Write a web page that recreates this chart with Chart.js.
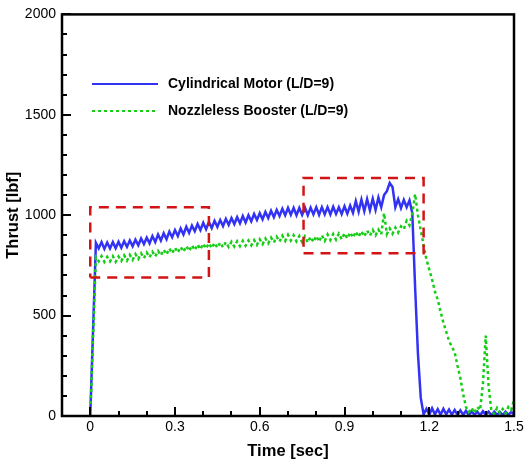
<!DOCTYPE html>
<html>
<head>
<meta charset="utf-8">
<script src="https://cdn.jsdelivr.net/npm/chart.js@4/dist/chart.umd.min.js"></script>
<style>
  html, body { margin: 0; padding: 0; background: #fff; }
  canvas { display: block; }
</style>
</head>
<body>
<canvas id="thrust-chart" width="528" height="462"></canvas>
<script>
// Time samples [sec]
const time = [
  0.00, 0.01, 0.02, 0.03, 0.04, 0.05, 0.06, 0.07, 0.08, 0.09,
  0.10, 0.11, 0.12, 0.13, 0.14, 0.15, 0.16, 0.17, 0.18, 0.19,
  0.20, 0.21, 0.22, 0.23, 0.24, 0.25, 0.26, 0.27, 0.28, 0.29,
  0.30, 0.31, 0.32, 0.33, 0.34, 0.35, 0.36, 0.37, 0.38, 0.39,
  0.40, 0.41, 0.42, 0.43, 0.44, 0.45, 0.46, 0.47, 0.48, 0.49,
  0.50, 0.51, 0.52, 0.53, 0.54, 0.55, 0.56, 0.57, 0.58, 0.59,
  0.60, 0.61, 0.62, 0.63, 0.64, 0.65, 0.66, 0.67, 0.68, 0.69,
  0.70, 0.71, 0.72, 0.73, 0.74, 0.75, 0.76, 0.77, 0.78, 0.79,
  0.80, 0.81, 0.82, 0.83, 0.84, 0.85, 0.86, 0.87, 0.88, 0.89,
  0.90, 0.91, 0.92, 0.93, 0.94, 0.95, 0.96, 0.97, 0.98, 0.99,
  1.00, 1.01, 1.02, 1.03, 1.04, 1.05, 1.06, 1.07, 1.08, 1.09,
  1.10, 1.11, 1.12, 1.13, 1.14, 1.15, 1.16, 1.17, 1.18, 1.19,
  1.20, 1.21, 1.22, 1.23, 1.24, 1.25, 1.26, 1.27, 1.28, 1.29,
  1.30, 1.31, 1.32, 1.33, 1.34, 1.35, 1.36, 1.37, 1.38, 1.39,
  1.40, 1.41, 1.42, 1.43, 1.44, 1.45, 1.46, 1.47, 1.48, 1.49,
  1.50
];

// Cylindrical Motor (L/D=9) thrust [lbf]
const cylindricalMotor = [
  0, 430, 862, 835, 866, 832, 864, 834, 866, 836,
  868, 838, 870, 842, 874, 845, 878, 850, 884, 856,
  888, 860, 896, 866, 904, 874, 910, 880, 918, 890,
  926, 896, 934, 904, 942, 912, 948, 920, 956, 926,
  962, 930, 966, 936, 972, 942, 976, 946, 982, 952,
  986, 956, 990, 960, 996, 964, 1000, 970, 1006, 976,
  1010, 980, 1016, 986, 1022, 990, 1026, 996, 1032, 1000,
  1036, 1002, 1036, 1000, 1036, 1002, 1038, 1000, 1038, 1004,
  1040, 1002, 1040, 1004, 1040, 1004, 1042, 1006, 1040, 1006,
  1044, 1008, 1048, 1012, 1070, 1018, 1078, 1020, 1080, 1024,
  1082, 1026, 1088, 1040, 1100, 1120, 1160, 1140, 1040, 1080,
  1036, 1076, 1040, 1074, 1010, 640, 310, 90, 8, 36,
  6, 38, 8, 34, 6, 36, 8, 32, 6, 30,
  5, 28, 6, 26, 4, 24, 6, 22, 4, 24,
  6, 22, 4, 22, 6, 20, 4, 22, 6, 20,
  8
];

// Nozzleless Booster (L/D=9) thrust [lbf]
const nozzlelessBooster = [
  0, 400, 790, 770, 796, 768, 792, 770, 796, 768,
  794, 772, 800, 774, 802, 778, 806, 782, 810, 786,
  814, 790, 818, 794, 822, 800, 828, 804, 834, 810,
  838, 814, 842, 818, 846, 822, 850, 826, 854, 830,
  858, 834, 860, 836, 862, 838, 864, 840, 866, 842,
  868, 844, 870, 846, 872, 848, 874, 850, 876, 852,
  880, 856, 884, 860, 888, 864, 892, 868, 898, 872,
  902, 874, 900, 870, 896, 866, 894, 864, 892, 866,
  896, 868, 900, 872, 904, 876, 906, 878, 908, 880,
  910, 884, 914, 888, 918, 892, 920, 894, 924, 898,
  926, 900, 928, 904, 1010, 906, 934, 908, 938, 914,
  944, 930, 972, 950, 1010, 1105, 1000, 925, 850, 780,
  730, 680, 620, 580, 520, 465, 420, 375, 345, 318,
  250, 190, 110, 45, 20, 40, 15, 45, 30, 160,
  400, 150, 25, 10, 40, 15, 35, 12, 45, 30,
  80
];

// Highlight boxes (corners)
const box1X = [0, 0.42, 0.42, 0, 0];
const box1Y = [690, 690, 1040, 1040, 690];
const box2X = [0.755, 1.18, 1.18, 0.755, 0.755];
const box2Y = [810, 810, 1185, 1185, 810];

// Axis ticks
const xTicks = [0, 0.3, 0.6, 0.9, 1.2, 1.5];
const xTickLabels = ["0", "0.3", "0.6", "0.9", "1.2", "1.5"];
const xMinor = [0.1, 0.2, 0.4, 0.5, 0.7, 0.8, 1.0, 1.1, 1.3, 1.4];
const yTicks = [0, 500, 1000, 1500, 2000];
const yTickLabels = ["0", "500", "1000", "1500", "2000"];
const yMinor = [100, 200, 300, 400, 600, 700, 800, 900, 1100, 1200, 1300, 1400, 1600, 1700, 1800, 1900];

const seriesNames = ["Cylindrical Motor (L/D=9)", "Nozzleless Booster (L/D=9)"];

const FONT = "'Liberation Sans', Arial, Helvetica, sans-serif";

function toPoints(xs, ys) {
  return xs.map((x, i) => ({ x: x, y: ys[i] }));
}

// Frame with inward ticks
const frameTicks = {
  id: "frameTicks",
  afterDatasetsDraw(chart) {
    const { ctx, chartArea: a, scales } = chart;
    const x = scales.x;
    const y = scales.y;
    ctx.save();
    ctx.strokeStyle = "#000";
    ctx.lineWidth = 2;
    ctx.beginPath();
    xTicks.forEach((v) => {
      const px = Math.round(x.getPixelForValue(v));
      ctx.moveTo(px, a.bottom);
      ctx.lineTo(px, a.bottom - 9);
    });
    xMinor.forEach((v) => {
      const px = Math.round(x.getPixelForValue(v));
      ctx.moveTo(px, a.bottom);
      ctx.lineTo(px, a.bottom - 5);
    });
    yTicks.forEach((v) => {
      const py = Math.round(y.getPixelForValue(v));
      ctx.moveTo(a.left, py);
      ctx.lineTo(a.left + 9, py);
    });
    yMinor.forEach((v) => {
      const py = Math.round(y.getPixelForValue(v));
      ctx.moveTo(a.left, py);
      ctx.lineTo(a.left + 5, py);
    });
    ctx.stroke();
    ctx.lineWidth = 2.5;
    ctx.strokeRect(a.left, a.top, a.right - a.left, a.bottom - a.top);
    ctx.restore();
  },
};

// Legend inside plot
const insideLegend = {
  id: "insideLegend",
  afterDraw(chart) {
    const ctx = chart.ctx;
    const rows = [
      { ds: chart.data.datasets[3], y: 84 },
      { ds: chart.data.datasets[2], y: 111 },
    ];
    ctx.save();
    rows.forEach((r) => {
      ctx.strokeStyle = r.ds.borderColor;
      ctx.lineWidth = 2;
      ctx.setLineDash(r.ds.borderDash || []);
      ctx.beginPath();
      ctx.moveTo(92, r.y);
      ctx.lineTo(158, r.y);
      ctx.stroke();
      ctx.setLineDash([]);
      ctx.fillStyle = "#000";
      ctx.font = "bold 14px " + FONT;
      ctx.textBaseline = "middle";
      ctx.fillText(r.ds.label, 168, r.y);
    });
    ctx.restore();
  },
};

const ctx = document.getElementById("thrust-chart").getContext("2d");
const chart = new Chart(ctx, {
  type: "line",
  data: {
    datasets: [
      {
        label: "box1",
        data: toPoints(box1X, box1Y),
        borderColor: "rgb(210, 20, 20)",
        borderWidth: 2.5,
        borderDash: [10, 7],
        pointRadius: 0,
        fill: false,
      },
      {
        label: "box2",
        data: toPoints(box2X, box2Y),
        borderColor: "rgb(210, 20, 20)",
        borderWidth: 2.5,
        borderDash: [10, 7],
        pointRadius: 0,
        fill: false,
      },
      {
        label: seriesNames[1],
        data: toPoints(time, nozzlelessBooster),
        borderColor: "rgb(20, 205, 20)",
        borderWidth: 2.5,
        borderDash: [3, 3],
        pointRadius: 0,
        fill: false,
      },
      {
        label: seriesNames[0],
        data: toPoints(time, cylindricalMotor),
        borderColor: "rgb(50, 50, 245)",
        borderWidth: 2.5,
        pointRadius: 0,
        fill: false,
      },
    ],
  },
  options: {
    responsive: false,
    animation: false,
    devicePixelRatio: 1,
    layout: {
      padding: { top: 13, right: 14, left: 0, bottom: 0 },
    },
    elements: {
      line: { tension: 0 },
    },
    plugins: {
      legend: { display: false },
      tooltip: { enabled: false },
    },
    scales: {
      x: {
        type: "linear",
        min: -0.1,
        max: 1.5,
        grid: { display: false, drawTicks: false },
        border: { display: false },
        afterBuildTicks: (scale) => {
          scale.ticks = xTicks.map((v) => ({ value: v }));
        },
        afterFit: (scale) => {
          scale.height = 46;
        },
        ticks: {
          autoSkip: false,
          maxRotation: 0,
          padding: 3,
          color: "#000",
          font: { family: FONT, size: 14 },
          callback: (v, i) => xTickLabels[i],
        },
        title: {
          display: true,
          text: "Time [sec]",
          color: "#000",
          padding: { top: 0, bottom: 1 },
          font: { family: FONT, size: 16.5, weight: "bold" },
        },
      },
      y: {
        type: "linear",
        min: 0,
        max: 2000,
        grid: { display: false, drawTicks: false },
        border: { display: false },
        afterBuildTicks: (scale) => {
          scale.ticks = yTicks.map((v) => ({ value: v }));
        },
        afterFit: (scale) => {
          scale.width = 62;
        },
        ticks: {
          autoSkip: false,
          padding: 6,
          color: "#000",
          font: { family: FONT, size: 14 },
          callback: (v, i) => yTickLabels[i],
        },
        title: {
          display: true,
          text: "Thrust [lbf]",
          color: "#000",
          padding: { top: 4, bottom: 0 },
          font: { family: FONT, size: 16.5, weight: "bold" },
        },
      },
    },
  },
  plugins: [frameTicks, insideLegend],
});
</script>
</body>
</html>
